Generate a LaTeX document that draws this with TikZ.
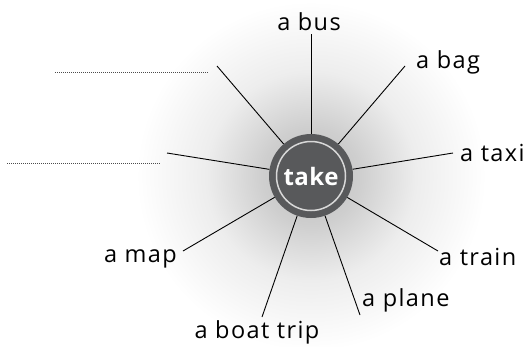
\documentclass[tikz,border=0pt]{standalone}
\usepackage{fontspec}
\setmainfont{Open Sans}[LetterSpace=6]
\newfontfamily\hubfont{Open Sans}[LetterSpace=2]
\definecolor{hub}{HTML}{58595B}
\definecolor{ring}{HTML}{D8D8D8}
\pgfdeclareradialshading{halo}{\pgfpoint{0bp}{0bp}}{color(0bp)=(black!26); color(7bp)=(black!19); color(15bp)=(black!7); color(25bp)=(white); color(50bp)=(white)}
\begin{document}
\begin{tikzpicture}[x=1pt,y=-1pt,
  spoke/.style={draw=black,line width=0.9pt},
  lbl/.style={font=\fontsize{23.5}{25}\selectfont,text=black,inner sep=0pt},
  blank/.style={draw=black!70,line width=0.8pt,dash pattern=on 0.8pt off 1.2pt}]
\useasboundingbox (0,0) rectangle (529,346);
\shade[shading=halo] (311,176) circle (175);
\node[circle,fill=hub,minimum size=84pt,inner sep=0pt] (c) at (311,176) {};
\node[circle,draw=ring,line width=1.5pt,minimum size=69pt,inner sep=0pt,
  font=\hubfont\bfseries\fontsize{24}{26}\selectfont,text=white] (t) at (311,176) {take};
% outer ends
\coordinate (ebus) at (311,34);
\coordinate (ebag) at (405,66);
\coordinate (etaxi) at (453,153);
\coordinate (etrain) at (438,251);
\coordinate (eplane) at (360,315);
\coordinate (eboat) at (262,317);
\coordinate (emap) at (183,251);
\coordinate (eul) at (217,66);
\coordinate (ell) at (167,153);
\foreach \e in {ebus,ebag,etaxi,etrain,eplane,eboat,emap,eul,ell}
  \draw[spoke] (c) -- (\e);
% labels
\node[lbl,anchor=base] (lbus) at (309,30) {a bus};
\node[lbl,anchor=base west] (lbag) at (416,68) {a bag};
\node[lbl,anchor=base west] (ltaxi) at (460,161) {a taxi};
\node[lbl,anchor=base west] (ltrain) at (439,265) {a train};
\node[lbl,anchor=base west] (lplane) at (362,306) {a plane};
\node[lbl,anchor=base] (lboat) at (257,338) {a boat trip};
\node[lbl,anchor=base east] (lmap) at (177,262) {a map};
% blanks
\coordinate (d1a) at (55,72);
\coordinate (d1b) at (208,72);
\coordinate (d2a) at (7,163);
\coordinate (d2b) at (160,163);
\draw[blank] (d1a) -- (d1b);
\draw[blank] (d2a) -- (d2b);
\end{tikzpicture}
\end{document}
